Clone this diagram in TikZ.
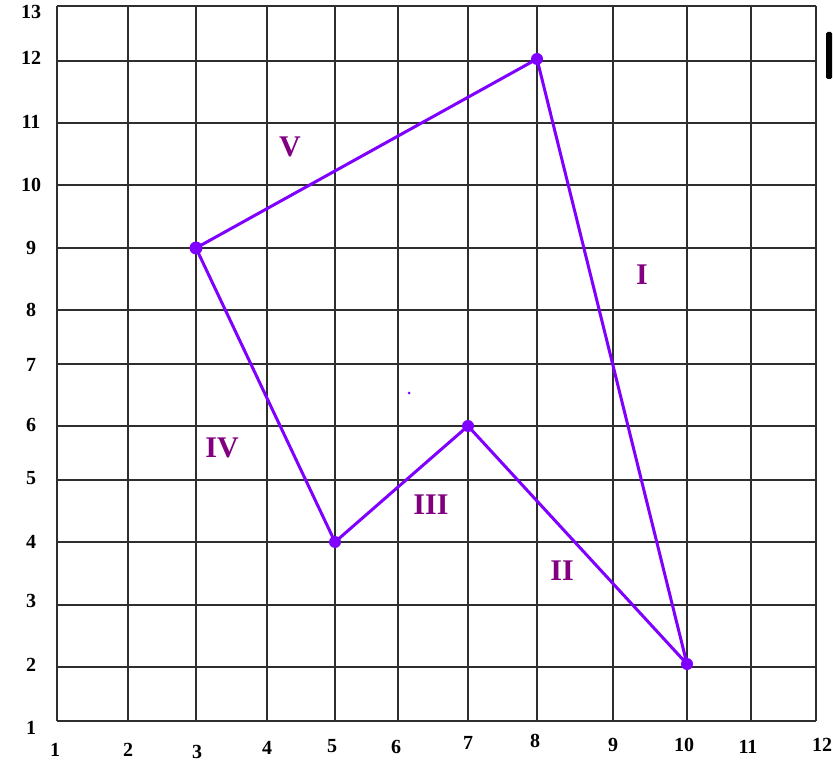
\documentclass[tikz,border=0pt]{standalone}
\usepackage{fontspec}
\setmainfont{Liberation Serif}
\usetikzlibrary{positioning}
\definecolor{gridink}{HTML}{2E2E2E}
\definecolor{edgeviolet}{HTML}{7F00FF}
\definecolor{labelpurple}{HTML}{800080}

\begin{document}
\begin{tikzpicture}[x=1pt, y=-1pt,
    gridline/.style={draw=gridink, line width=1.4pt},
    edge/.style={draw=edgeviolet, line width=3pt, line join=round},
    vertex/.style={circle, fill=edgeviolet, inner sep=0pt, minimum size=12pt},
    axislabel/.style={font=\fontsize{20}{20}\selectfont\bfseries},
    region/.style={text=labelpurple, font=\fontsize{30}{30}\selectfont\bfseries}]
  \useasboundingbox (0,0) rectangle (833,762);
  % grid, uneven spacing as in the sheet
  \foreach \x in {57,128,196,267,335,398,468,537,613,687,751,816}
    \draw[gridline] (\x,6) -- (\x,721);
  \foreach \y in {6,61,123,185,248,310,364,426,480,542,605,667,721}
    \draw[gridline] (57,\y) -- (816,\y);
  % axis numbers
  \foreach \x/\yy/\n in {55/750/1,128/750/2,197/752/3,267/748/4,332/746/5,
      396/747/6,468/743/7,535/741/8,613/745/9,684/745/10,748/747/11,822/745/12}
    \node[axislabel] (xl\n) at (\x,\yy) {\n};
  \foreach \y/\n in {12/13,58/12,122/11,185/10,248/9,310/8,365/7,
      425/6,478/5,542/4,601/3,665/2,728/1}
    \node[axislabel] (yl\n) at (31,\y) {\n};
  % corners of the shape
  \node[vertex, minimum size=13pt] (pA) at (196,248) {};
  \node[vertex] (pB) at (537,59) {};
  \node[vertex] (pC) at (687,664) {};
  \node[vertex] (pD) at (468,426) {};
  \node[vertex] (pE) at (335,542) {};
  \draw[edge] (pA.center) -- (pB.center) -- (pC.center) -- (pD.center)
    -- (pE.center) -- cycle;
  % side names
  \node[region] (sV) at (290,147) {V};
  \node[region] (sI) at (642,275) {I};
  \node[region] (sIV) at (222,448) {IV};
  \node[region] (sIII) at (431,505) {III};
  \node[region] (sII) at (562,571) {II};
  \fill[edgeviolet] (409,393) circle (1.5);
  \fill[black, rounded corners=1.5pt] (826,32) rectangle (832,79);
\end{tikzpicture}
\end{document}
